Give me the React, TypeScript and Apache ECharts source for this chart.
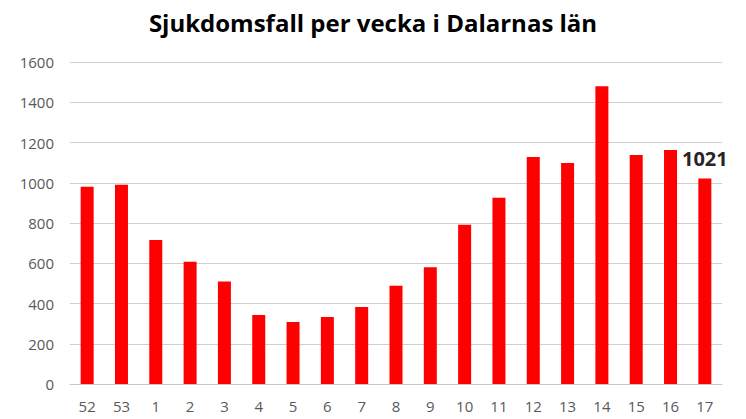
import React, { useEffect, useRef } from "react";
import * as echarts from "echarts";

const weeks = ["52", "53", "1", "2", "3", "4", "5", "6", "7", "8", "9", "10", "11", "12", "13", "14", "15", "16", "17"];
const cases = [980, 990, 716, 607, 509, 343, 308, 333, 383, 488, 580, 791, 925, 1128, 1098, 1479, 1138, 1163, 1021];
const title = "Sjukdomsfall per vecka i Dalarnas län";

export default function App() {
  const ref = useRef<HTMLDivElement>(null);
  useEffect(() => {
    if (!ref.current) return;
    const chart = echarts.init(ref.current, null, { renderer: "svg" });
    chart.setOption({
      animation: false,
      backgroundColor: "#ffffff",
      title: {
        text: title,
        left: "center",
        top: 5,
        textStyle: { fontFamily: "Open Sans", fontWeight: "bold", fontSize: 24, color: "#000000" },
      },
      grid: { left: 70, right: 24, top: 62, bottom: 35 },
      xAxis: {
        type: "category",
        data: weeks,
        axisTick: { show: false },
        axisLine: { lineStyle: { color: "#c8c8c8" } },
        axisLabel: { color: "#595959", fontSize: 15, fontFamily: "Open Sans", margin: 14 },
      },
      yAxis: {
        type: "value",
        min: 0,
        max: 1600,
        interval: 200,
        axisLine: { show: false },
        axisTick: { show: false },
        splitLine: { lineStyle: { color: "#cfcfcf" } },
        axisLabel: {
          color: "#595959",
          fontSize: 15,
          fontFamily: "Open Sans",
          margin: 16,
          formatter: (v: number) => String(v),
        },
      },
      series: [
        {
          type: "bar",
          data: cases.map((v, i) =>
            i === cases.length - 1
              ? {
                  value: v,
                  label: {
                    show: true,
                    position: "top",
                    distance: 10,
                    color: "#262626",
                    fontWeight: "bold",
                    fontSize: 20,
                    fontFamily: "Open Sans",
                  },
                }
              : v
          ),
          barWidth: 13,
          itemStyle: { color: "#ff0000" },
        },
      ],
    });
    return () => chart.dispose();
  }, []);
  return <div ref={ref} style={{ position: "absolute", left: 0, top: 0, width: 746, height: 419 }} />;
}
